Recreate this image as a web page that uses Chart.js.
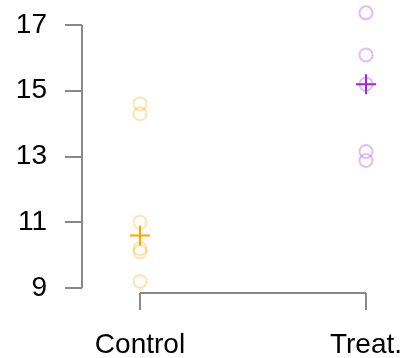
<!DOCTYPE html>
<html>
<head>
<meta charset="utf-8">
<script src="https://cdn.jsdelivr.net/npm/chart.js@4"></script>
<style>
  html, body { margin: 0; padding: 0; background: #fff; }
  #wrap { width: 412px; height: 358px; }
</style>
</head>
<body>
<div id="wrap"><canvas id="dots"></canvas></div>
<script>
// Дані
const groups = ["Control", "Treat."];
const controlValues = [14.6, 14.3, 11.0, 10.2, 10.1, 9.2];
const treatValues = [17.37, 16.09, 15.2, 13.15, 12.88];
const yTicks = [9, 11, 13, 15, 17];

const median = (arr) => {
  const s = [...arr].sort((a, b) => a - b);
  const m = Math.floor(s.length / 2);
  return s.length % 2 ? s[m] : (s[m - 1] + s[m]) / 2;
};

const toPoints = (vals, x) => vals.map((v) => ({ x: x, y: v }));

const axisGray = "#888888";
const labelFont = { family: "'Liberation Sans', Arial, sans-serif", size: 28 };

// осі тільки між першою та останньою позначкою, як у R
const axisLines = {
  id: "axisLines",
  afterDraw(chart) {
    const { ctx, chartArea, scales } = chart;
    ctx.save();
    ctx.strokeStyle = axisGray;
    ctx.lineWidth = 2;
    ctx.beginPath();
    ctx.moveTo(chartArea.left, scales.y.getPixelForValue(yTicks[0]));
    ctx.lineTo(chartArea.left, scales.y.getPixelForValue(yTicks[yTicks.length - 1]));
    ctx.moveTo(scales.x.getPixelForValue(1), chartArea.bottom);
    ctx.lineTo(scales.x.getPixelForValue(groups.length), chartArea.bottom);
    ctx.stroke();
    ctx.restore();
  },
};

const config = {
  type: "scatter",
  data: {
    datasets: [
      {
        data: toPoints(controlValues, 1),
        pointStyle: "circle",
        pointRadius: 6.5,
        backgroundColor: "rgba(0,0,0,0)",
        borderColor: "rgba(255,165,0,0.3)",
        borderWidth: 2,
      },
      {
        data: toPoints(treatValues, 2),
        pointStyle: "circle",
        pointRadius: 6.5,
        backgroundColor: "rgba(0,0,0,0)",
        borderColor: "rgba(160,32,240,0.3)",
        borderWidth: 2,
      },
      {
        data: [{ x: 1, y: median(controlValues) }],
        pointStyle: "cross",
        pointRadius: 10,
        borderColor: "#FFA500",
        borderWidth: 2,
      },
      {
        data: [{ x: 2, y: median(treatValues) }],
        pointStyle: "cross",
        pointRadius: 10,
        borderColor: "#A020F0",
        borderWidth: 2,
      },
    ],
  },
  options: {
    responsive: true,
    maintainAspectRatio: false,
    animation: false,
    layout: { padding: 0, autoPadding: false },
    plugins: { legend: { display: false }, tooltip: { enabled: false } },
    scales: {
      x: {
        type: "linear",
        min: 0.7434,
        max: 2.2036,
        afterBuildTicks: (scale) => {
          scale.ticks = groups.map((g, i) => ({ value: i + 1 }));
        },
        afterFit: (scale) => {
          scale.height = 65;
          scale.paddingLeft = 0;
          scale.paddingRight = 0;
        },
        ticks: {
          autoSkip: false,
          maxRotation: 0,
          padding: 18,
          color: "#000",
          font: labelFont,
          callback: (v) => groups[v - 1],
        },
        grid: { drawOnChartArea: false, drawTicks: true, tickLength: 17, color: axisGray, lineWidth: 2 },
        border: { display: false },
      },
      y: {
        min: 8.848,
        max: 17.7605,
        afterBuildTicks: (scale) => {
          scale.ticks = yTicks.map((v) => ({ value: v }));
        },
        afterFit: (scale) => {
          scale.width = 82;
          scale.paddingTop = 0;
          scale.paddingBottom = 0;
        },
        ticks: {
          autoSkip: false,
          padding: 18,
          color: "#000",
          font: labelFont,
        },
        grid: { drawOnChartArea: false, drawTicks: true, tickLength: 17, color: axisGray, lineWidth: 2 },
        border: { display: false },
      },
    },
  },
  plugins: [axisLines],
};

const ctx = document.getElementById("dots");
const dotChart = new Chart(ctx, config);
</script>
</body>
</html>
